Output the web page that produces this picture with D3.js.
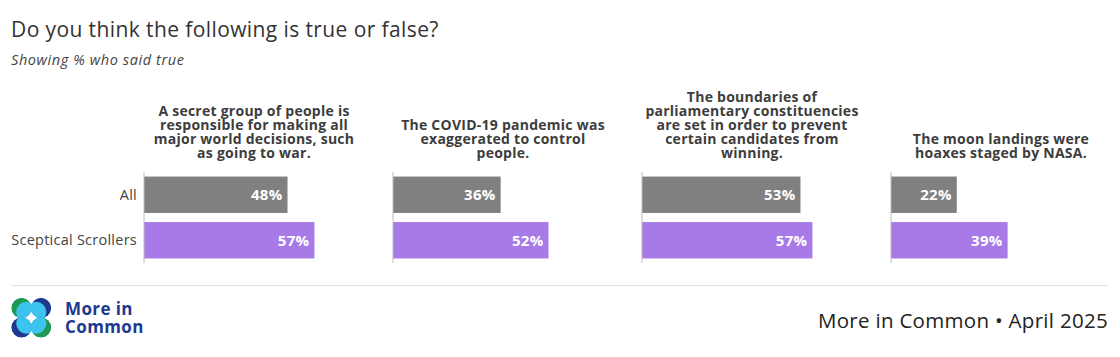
<!DOCTYPE html>
<html>
<head>
<meta charset="utf-8">
<script src="https://cdn.jsdelivr.net/npm/d3@7"></script>
<style>
  html, body { margin: 0; padding: 0; background: #fff; }
  svg { display: block; font-family: "Open Sans", Lato, sans-serif; }
</style>
</head>
<body>
<svg id="chart" width="1120" height="357"></svg>
<script>
const title = "Do you think the following is true or false?";
const subtitle = "Showing % who said true";
const groups = ["All", "Sceptical Scrollers"];
const statements = [
  ["A secret group of people is", "responsible for making all", "major world decisions, such", "as going to war."],
  ["The COVID-19 pandemic was", "exaggerated to control", "people."],
  ["The boundaries of", "parliamentary constituencies", "are set in order to prevent", "certain candidates from", "winning."],
  ["The moon landings were", "hoaxes staged by NASA."]
];
const allValues = [48, 36, 53, 22];
const scepticalValues = [57, 52, 57, 39];
const groupColors = ["#808080", "#a87ae8"];
const source = "More in Common \u2022 April 2025";
const brandLines = ["More in", "Common"];

const svg = d3.select("#chart");

// Title & subtitle
svg.append("text").attr("x", 11).attr("y", 37)
  .attr("font-size", 21).attr("letter-spacing", 0.4).attr("fill", "#333").text(title);
svg.append("text").attr("x", 11).attr("y", 65)
  .attr("font-size", 14.5).attr("letter-spacing", 0.6).attr("font-style", "italic").attr("fill", "#444").text(subtitle);

// Panels
const panelX = d3.scaleBand().domain(d3.range(statements.length)).range([144, 144 + 249 * 4]).paddingInner(0).paddingOuter(0);
const x = d3.scaleLinear().domain([0, 100]).range([0, 299]);
const y = d3.scaleBand().domain(groups).range([172, 263]).paddingInner(0.2).paddingOuter(0.1);
const color = d3.scaleOrdinal().domain(groups).range(groupColors);

// Category labels
svg.append("g").selectAll("text").data(groups).join("text")
  .attr("x", 137).attr("y", d => y(d) + y.bandwidth() / 2 + 5)
  .attr("text-anchor", "end").attr("font-size", 14.5).attr("letter-spacing", 0.25).attr("fill", "#444")
  .text(d => d);

statements.forEach((lines, i) => {
  const g = svg.append("g").attr("transform", `translate(${panelX(i)},0)`);
  const rows = groups.map((grp, k) => ({ grp, v: k === 0 ? allValues[i] : scepticalValues[i] }));

  // header
  const lh = 14, lastBaseline = 158;
  g.append("text").attr("text-anchor", "middle").attr("font-size", 14)
    .attr("letter-spacing", 0.25)
    .attr("font-weight", 700).attr("fill", "#3d3d3d")
    .selectAll("tspan").data(lines).join("tspan")
    .attr("x", 110)
    .attr("y", (d, j) => lastBaseline - (lines.length - 1 - j) * lh)
    .text(d => d);

  g.selectAll("rect").data(rows).join("rect")
    .attr("x", x(0)).attr("y", d => y(d.grp))
    .attr("width", d => x(d.v) - x(0)).attr("height", y.bandwidth())
    .attr("fill", d => color(d.grp));

  g.selectAll("text.val").data(rows).join("text").attr("class", "val")
    .attr("x", d => x(d.v) - 5).attr("y", d => y(d.grp) + y.bandwidth() / 2 + 5.5)
    .attr("text-anchor", "end").attr("font-size", 15).attr("letter-spacing", 0.3).attr("font-weight", 700)
    .attr("fill", "#fff").text(d => d.v + "%");

  g.append("line").attr("x1", x(0)).attr("x2", x(0))
    .attr("y1", 172).attr("y2", 263)
    .attr("stroke", "#bbb").attr("stroke-width", 1);
});

// Footer rule
svg.append("line").attr("x1", 11).attr("x2", 1108).attr("y1", 285.5).attr("y2", 285.5)
  .attr("stroke", "#e2e2e2").attr("stroke-width", 1);

// Logo
const defs = svg.append("defs");
const logo = [
  { cx: 21.5, cy: 308, dark: "#1f9a55", dx: 5, dy: 4 },
  { cx: 41, cy: 308, dark: "#1d3a8f", dx: -5, dy: 4 },
  { cx: 21.5, cy: 327.5, dark: "#1d3a8f", dx: 5, dy: -4 },
  { cx: 41, cy: 327.5, dark: "#1f9a55", dx: -5, dy: -4 }
];
const r = 10.3;
logo.forEach((c, i) => {
  defs.append("clipPath").attr("id", "lc" + i)
    .append("circle").attr("cx", c.cx).attr("cy", c.cy).attr("r", r);
  const lg = svg.append("g").attr("clip-path", `url(#lc${i})`);
  lg.append("circle").attr("cx", c.cx).attr("cy", c.cy).attr("r", r).attr("fill", c.dark);
  lg.append("circle").attr("cx", c.cx + c.dx).attr("cy", c.cy + c.dy).attr("r", r).attr("fill", "#3cc3ee");
});
svg.append("text").attr("font-size", 17).attr("letter-spacing", 0.4).attr("font-weight", 700).attr("fill", "#1d3a8f")
  .selectAll("tspan").data(brandLines).join("tspan")
  .attr("x", 65).attr("y", (d, j) => 315 + j * 18).text(d => d);

// Source
svg.append("text").attr("x", 1108).attr("y", 328).attr("text-anchor", "end")
  .attr("font-size", 20.5).attr("letter-spacing", 0.3).attr("fill", "#222").text(source);
</script>
</body>
</html>
